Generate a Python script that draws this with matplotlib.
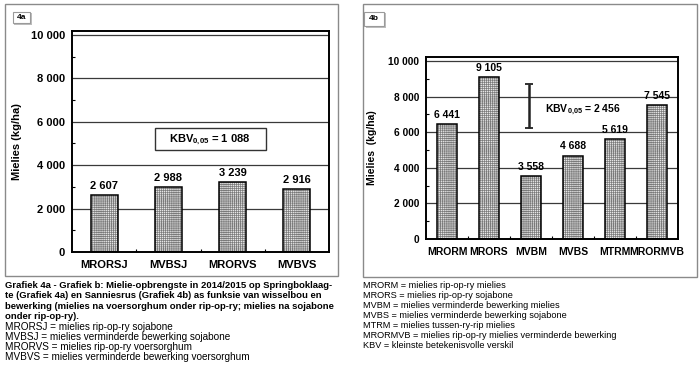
import matplotlib
matplotlib.use("Agg")
import matplotlib.pyplot as plt
from matplotlib.patches import Rectangle
import numpy as np

plt.rcParams['font.family'] = ['Liberation Sans', 'DejaVu Sans']
plt.rcParams['mathtext.fontset'] = 'custom'
plt.rcParams['mathtext.rm'] = 'Liberation Sans:bold'
plt.rcParams['mathtext.bf'] = 'Liberation Sans:bold'
plt.rcParams['mathtext.default'] = 'bf'
plt.rcParams['hatch.linewidth'] = 0.5

# ---------------- data ----------------
cats_a = ["MRORSJ", "MVBSJ", "MRORVS", "MVBVS"]
vals_a = [2607, 2988, 3239, 2916]
kbv_a = "1 088"

cats_b = ["MRORM", "MRORS", "MVBM", "MVBS", "MTRM", "MRORMVB"]
vals_b = [6441, 9105, 3558, 4688, 5619, 7545]
kbv_b = 2456
kbv_b_label = "2 456"

yticks = [0, 2000, 4000, 6000, 8000, 10000]
ytick_labels = ["0", "2 000", "4 000", "6 000", "8 000", "10 000"]

caption_a_bold = [
    "Grafiek 4a - Grafiek b: Mielie-opbrengste in 2014/2015 op Springboklaag-",
    "te (Grafiek 4a) en Sanniesrus (Grafiek 4b) as funksie van wisselbou en",
    "bewerking (mielies na voersorghum onder rip-op-ry; mielies na sojabone",
    "onder rip-op-ry).",
]
caption_a = [
    "MRORSJ = mielies rip-op-ry sojabone",
    "MVBSJ = mielies verminderde bewerking sojabone",
    "MRORVS = mielies rip-op-ry voersorghum",
    "MVBVS = mielies verminderde bewerking voersorghum",
]
caption_b = [
    "MRORM = mielies rip-op-ry mielies",
    "MRORS = mielies rip-op-ry sojabone",
    "MVBM = mielies verminderde bewerking mielies",
    "MVBS = mielies verminderde bewerking sojabone",
    "MTRM = mielies tussen-ry-rip mielies",
    "MRORMVB = mielies rip-op-ry mielies verminderde bewerking",
    "KBV = kleinste betekenisvolle verskil",
]

W, H = 700, 376
fig = plt.figure(figsize=(W / 100, H / 100), dpi=100)


def fx(px):
    return px / W


def fy(py):
    return 1 - py / H


def frect(x0, y0, x1, y1, **kw):
    r = Rectangle((fx(x0), fy(y1)), fx(x1 - x0), (y1 - y0) / H,
                  transform=fig.transFigure, **kw)
    fig.add_artist(r)
    return r


# panel borders
frect(5, 4, 338, 276, fill=False, edgecolor='#8a8a8a', linewidth=1.0)
frect(363, 4, 697, 277, fill=False, edgecolor='#8a8a8a', linewidth=1.0)


def tag(x0, y0, x1, y1, label):
    frect(x0 + 1.5, y0 + 1.5, x1 + 1.5, y1 + 1.5, facecolor='#bdbdbd', edgecolor='none')
    frect(x0, y0, x1, y1, facecolor='white', edgecolor='#9a9a9a', linewidth=0.8)
    fig.text(fx((x0 + x1) / 2), fy((y0 + y1) / 2), label, ha='center', va='center',
             fontsize=6, fontweight='bold')


tag(13, 12, 30, 23, "4a")
tag(364, 12, 384, 26, "4b")


def style_axes(ax, ylim_top, ncat, tick_fs):
    ax.set_ylim(0, ylim_top)
    ax.set_xlim(-0.5, ncat - 0.5)
    ax.set_yticks(yticks)
    ax.set_yticklabels(ytick_labels, fontsize=tick_fs, fontweight='bold')
    ax.set_yticks(np.arange(1000, 10001, 2000), minor=True)
    ax.set_xticks(np.arange(0.5, ncat - 0.5, 1.0), minor=True)
    ax.tick_params(axis='y', which='major', length=0, pad=5)
    ax.tick_params(axis='y', which='minor', direction='in', length=2, width=0.8)
    ax.tick_params(axis='x', which='major', length=0, pad=6)
    ax.tick_params(axis='x', which='minor', direction='in', length=2, width=0.8)
    for ytk in yticks[1:]:
        ax.axhline(ytk, color='#3a3a3a', linewidth=0.9, zorder=0)
    for s in ax.spines.values():
        s.set_linewidth(1.4)
        s.set_color('black')


def draw_bars(ax, cats, vals, width, fs_val, off):
    x = np.arange(len(cats))
    ax.bar(x, vals, width=width, facecolor='#e6e6e6', edgecolor='#7a7a7a',
           hatch='++++++++', linewidth=0, zorder=2)
    ax.bar(x, vals, width=width, fill=False, edgecolor='black', linewidth=1.1, zorder=3)
    for xi, v in zip(x, vals):
        ax.annotate(f"{v:,}".replace(",", " "), (xi, v), xytext=(0, off),
                    textcoords='offset points', ha='center', va='bottom',
                    fontsize=fs_val, fontweight='bold')
    ax.set_xticks(x)
    ax.set_xticklabels(cats, fontsize=fs_val, fontweight='bold')


# ---------------- panel a ----------------
axa = fig.add_axes([fx(72), fy(252), fx(329 - 72), (252 - 31) / H])
style_axes(axa, 10180, len(cats_a), 8)
draw_bars(axa, cats_a, vals_a, 0.42, 8, 3)
axa.set_ylabel("Mielies (kg/ha)", fontsize=8, fontweight='bold', labelpad=6)
frect(155, 128, 266, 150, facecolor='white', edgecolor='#333333', linewidth=1.0, zorder=5)
fig.text(fx(210), fy(140), r"KBV$_{0{,}05}$ = " + kbv_a, ha='center', va='center',
         fontsize=8, fontweight='bold', zorder=6)

# ---------------- panel b ----------------
axb = fig.add_axes([fx(426), fy(239), fx(678 - 426), (239 - 57) / H])
style_axes(axb, 10225, len(cats_b), 7.3)
draw_bars(axb, cats_b, vals_b, 0.47, 7.5, 3)
axb.set_ylabel("Mielies  (kg/ha)", fontsize=7.5, fontweight='bold', labelpad=8)
axb.errorbar([1.95], [7460], yerr=[kbv_b / 2], fmt='none', ecolor='#222222',
             elinewidth=1.8, capsize=3, capthick=1.3, zorder=4)
axb.text(2.33, 7250, r"KBV$_{0{,}05}$ = " + kbv_b_label, ha='left', va='center',
         fontsize=7.5, fontweight='bold')

# ---------------- captions ----------------
ya = [285, 296, 306.7, 316.7]
for yy, line in zip(ya, caption_a_bold):
    fig.text(fx(5), fy(yy), line, ha='left', va='center', fontsize=6.8, fontweight='bold')
ya2 = [326.7, 336.7, 346.7, 357.3]
for yy, line in zip(ya2, caption_a):
    fig.text(fx(5), fy(yy), line, ha='left', va='center', fontsize=7.2)
yb = [285, 295, 305, 315, 325, 335, 345]
for yy, line in zip(yb, caption_b):
    fig.text(fx(363), fy(yy), line, ha='left', va='center', fontsize=6.6)

fig.savefig("out.png", dpi=100)
